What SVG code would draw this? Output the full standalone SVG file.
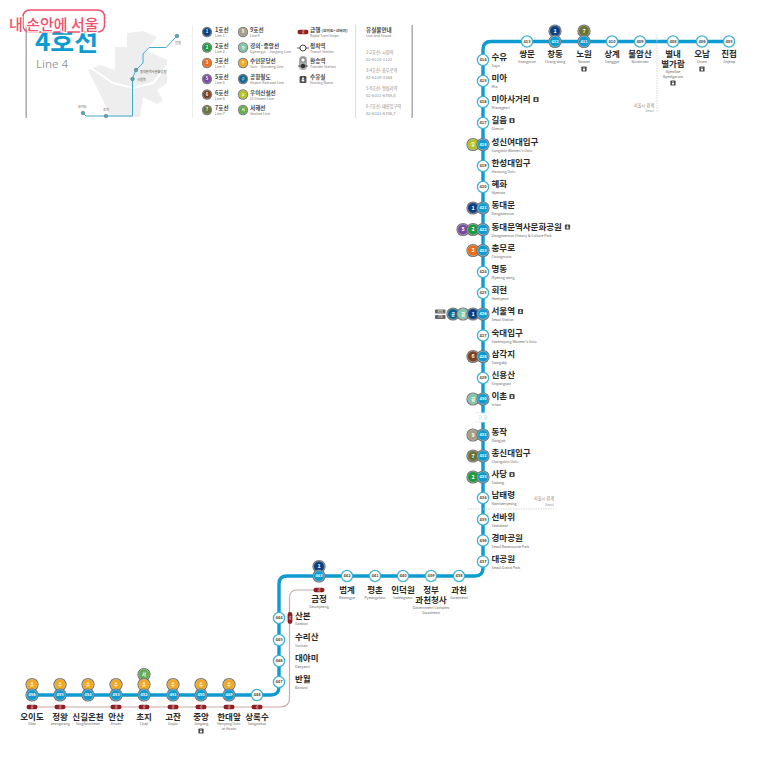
<svg xmlns="http://www.w3.org/2000/svg" width="760" height="760" viewBox="0 0 760 760">
<style>
text{font-family:"Noto Sans CJK KR","Liberation Sans",sans-serif}
.n{font-size:8.5px;font-weight:700;fill:#2a2a2a}
.e{font-size:3.6px;fill:#666}
.m{text-anchor:middle}
.s{font-size:4px;text-anchor:middle;fill:#444;font-weight:700}
.w{font-size:4px;text-anchor:middle;fill:#fff;font-weight:700}
.lw{font-size:5.400px;text-anchor:middle;fill:#fff;font-weight:700}
.lk{font-size:5.6px;font-weight:700;fill:#444}
.le{font-size:3.5px;fill:#777}
.g{font-size:4.2px;fill:#888}
.gb{font-size:3.3px;fill:#999}
.t{font-size:3.2px;fill:#555}
.main{fill:none;stroke:#0e9bd1;stroke-width:3.4;stroke-linejoin:round}
.rapid{fill:none;stroke:#c9aaa6;stroke-width:1.2}
.bound{fill:none;stroke:#ccc;stroke-width:.8;stroke-dasharray:1.5 1}
</style>
<defs>
<circle id="plain" r="5.600" fill="#fff" stroke="#3fb0cf" stroke-width="1.300"/>
<g id="bl"><circle r="6.600" fill="#6d6d6d"/><circle r="5.400" fill="#0e9bd1" stroke="#d8eef6" stroke-width=".4"/></g>
<g id="l1"><circle r="6.600" fill="#6d6d6d"/><circle r="5.400" fill="#0d3f80" stroke="#ddd" stroke-width=".4"/><text class="lw" y="1.900">1</text></g>
<g id="l2"><circle r="6.600" fill="#6d6d6d"/><circle r="5.400" fill="#1b9b3e" stroke="#ddd" stroke-width=".4"/><text class="lw" y="1.900">2</text></g>
<g id="l3"><circle r="6.600" fill="#6d6d6d"/><circle r="5.400" fill="#ee6c14" stroke="#ddd" stroke-width=".4"/><text class="lw" y="1.900">3</text></g>
<g id="l5"><circle r="6.600" fill="#6d6d6d"/><circle r="5.400" fill="#7a4aa3" stroke="#ddd" stroke-width=".4"/><text class="lw" y="1.900">5</text></g>
<g id="l6"><circle r="6.600" fill="#6d6d6d"/><circle r="5.400" fill="#7c4023" stroke="#ddd" stroke-width=".4"/><text class="lw" y="1.900">6</text></g>
<g id="l7"><circle r="6.600" fill="#6d6d6d"/><circle r="5.400" fill="#6b7232" stroke="#ddd" stroke-width=".4"/><text class="lw" y="1.900">7</text></g>
<g id="l9"><circle r="6.600" fill="#6d6d6d"/><circle r="5.400" fill="#a59e85" stroke="#ddd" stroke-width=".4"/><text class="lw" y="1.900">9</text></g>
<g id="lg"><circle r="6.600" fill="#6d6d6d"/><circle r="5.400" fill="#7fc6ad" stroke="#ddd" stroke-width=".4"/><text class="lw" y="1.600" style="font-size:4.400px">경</text></g>
<g id="ls"><circle r="6.600" fill="#6d6d6d"/><circle r="5.400" fill="#f2a91e" stroke="#ddd" stroke-width=".4"/><text class="lw" y="1.600" style="font-size:4.400px">수</text></g>
<g id="la"><circle r="6.600" fill="#6d6d6d"/><circle r="5.400" fill="#0c6290" stroke="#ddd" stroke-width=".4"/><text class="lw" y="1.600" style="font-size:4.400px">공</text></g>
<g id="lu"><circle r="6.600" fill="#6d6d6d"/><circle r="5.400" fill="#b3c320" stroke="#ddd" stroke-width=".4"/><text class="lw" y="1.600" style="font-size:4.400px">우</text></g>
<g id="lh"><circle r="6.600" fill="#6d6d6d"/><circle r="5.400" fill="#5fae4a" stroke="#ddd" stroke-width=".4"/><text class="lw" y="1.600" style="font-size:4.400px">서</text></g>
<g id="nr"><rect x="-2.600" y="-2.600" width="5.200" height="5.200" rx=".9" fill="#4a4a4a"/><circle cy="-1" r=".7" fill="#fff"/><rect x="-1" y="-.1" width="2" height="1.600" fill="#fff"/></g>
<g id="ph"><rect x="-5.500" y="-2.200" width="11" height="4.400" rx="2.200" fill="#8f1d21"/><text y="1.100" text-anchor="middle" fill="#fff" style="font-size:3px">급</text></g>
<g id="pv"><rect x="-2.400" y="-6" width="4.800" height="12" rx="2.400" fill="#8f1d21"/><text y="1.100" text-anchor="middle" fill="#fff" style="font-size:3px">급</text></g>
</defs>
<rect width="760" height="760" fill="#fff"/>

<g id="header">
<rect x="25.500" y="25" width="1.400" height="93" fill="#a5a5a5"/>
<text x="35" y="51" style="font-size:26px;font-weight:700;fill:#0e9bd1">4호선</text>
<text x="36" y="68" style="font-size:11.500px;fill:#9a9a9a;font-family:'Open Sans','Noto Sans',sans-serif">Line 4</text>
<path fill="#eeeeee" d="M115 47H127V33L143 31L157 37L146 50L160 57L167 60V83L157 90L163 100L157 104L143 97L140 117H110L103 100L88 70L100 65L115 70Z"/>
<path fill="none" stroke="#fff" stroke-width="2" d="M88 66L113 83L133 88L153 83L167 66"/>
<path fill="none" stroke="#40aeca" stroke-width="1" d="M83 113L86 116H132.500V78L136 70L143 63V54L149 47.500H166L177 36"/>
<circle cx="83" cy="113" r="1.800" fill="#40aeca" stroke="#777" stroke-width=".7"/>
<circle cx="106" cy="116" r="1.800" fill="#40aeca" stroke="#777" stroke-width=".7"/>
<circle cx="132.500" cy="79" r="1.800" fill="#40aeca" stroke="#777" stroke-width=".7"/>
<circle cx="136" cy="70" r="1.800" fill="#40aeca" stroke="#777" stroke-width=".7"/>
<circle cx="177" cy="36" r="1.800" fill="#40aeca" stroke="#777" stroke-width=".7"/>
<text class="t" x="175" y="44">진접</text>
<text class="t" x="140" y="72.500">동대문역사문화공원</text>
<text class="t" x="137" y="80.500">서울역</text>
<text class="t" x="78" y="108">오이도</text>
<text class="t" x="103" y="111">초지</text>
<rect x="192" y="25" width="1" height="93" fill="#eee"/>
<rect x="355" y="25" width="1" height="93" fill="#ddd"/>
<rect x="411.500" y="25" width="1.400" height="93" fill="#a5a5a5"/>
</g>

<g id="legend">
<use href="#l1" transform="translate(207 32) scale(.78)"/><text class="lk" x="215" y="32">1호선</text><text class="le" x="215" y="37">Line 1</text>
<use href="#l2" transform="translate(207 47.500) scale(.78)"/><text class="lk" x="215" y="47.500">2호선</text><text class="le" x="215" y="52.500">Line 2</text>
<use href="#l3" transform="translate(207 63) scale(.78)"/><text class="lk" x="215" y="63">3호선</text><text class="le" x="215" y="68">Line 3</text>
<use href="#l5" transform="translate(207 79) scale(.78)"/><text class="lk" x="215" y="79">5호선</text><text class="le" x="215" y="84">Line 5</text>
<use href="#l6" transform="translate(207 94.500) scale(.78)"/><text class="lk" x="215" y="94.500">6호선</text><text class="le" x="215" y="99.500">Line 6</text>
<use href="#l7" transform="translate(207 110) scale(.78)"/><text class="lk" x="215" y="110">7호선</text><text class="le" x="215" y="115">Line 7</text>
<use href="#l9" transform="translate(243 32) scale(.78)"/><text class="lk" x="250" y="32">9호선</text><text class="le" x="250" y="37">Line 9</text>
<use href="#lg" transform="translate(243 47.500) scale(.78)"/><text class="lk" x="250" y="47.500">경의·중앙선</text><text class="le" x="250" y="52.500">Gyeongui · Jungang Line</text>
<use href="#ls" transform="translate(243 63) scale(.78)"/><text class="lk" x="250" y="63">수인분당선</text><text class="le" x="250" y="68">Suin · Bundang Line</text>
<use href="#la" transform="translate(243 79) scale(.78)"/><text class="lk" x="250" y="79">공항철도</text><text class="le" x="250" y="84">Airport Railroad Line</text>
<use href="#lu" transform="translate(243 94.500) scale(.78)"/><text class="lk" x="250" y="94.500">우이신설선</text><text class="le" x="250" y="99.500">UI Sinseol Line</text>
<use href="#lh" transform="translate(243 110) scale(.78)"/><text class="lk" x="250" y="110">서해선</text><text class="le" x="250" y="115">Seohae Line</text>
<use href="#ph" x="303" y="32"/><text class="lk" x="310" y="32">급행 <tspan style="font-size:3.800px">(오이도~선바위)</tspan></text><text class="le" x="310" y="37">Rapid Train Stops</text>
<path d="M297 48H309" stroke="#333" stroke-width=".8"/><circle cx="303" cy="48" r="3" fill="#fff" stroke="#333" stroke-width=".9"/><text class="lk" x="310" y="47.500">정차역</text><text class="le" x="310" y="52.500">Transit Station</text>
<rect x="299" y="56" width="8" height="14" rx="4" fill="#aaa"/><circle cx="303" cy="60" r="2.200" fill="#fff" stroke="#555" stroke-width=".7"/><circle cx="303" cy="66" r="2.200" fill="#333"/><path d="M298 66H308" stroke="#333" stroke-width=".8"/><text class="lk" x="310" y="63">환승역</text><text class="le" x="310" y="68">Transfer Station</text>
<use href="#nr" transform="translate(303 79.500) scale(1.300)"/><text class="lk" x="310" y="79">수유실</text><text class="le" x="310" y="84">Nursing Room</text>
<text class="lk" x="366" y="32">유실물안내</text><text class="le" x="366" y="37">Lost and Found</text>
<text class="g" x="366" y="54">1-2호선: 시청역</text><text class="g" x="366" y="61">02-6110-1122</text>
<text class="g" x="366" y="72">3-4호선: 충무로역</text><text class="g" x="366" y="79">02-6110-3344</text>
<text class="g" x="366" y="90">5-8호선: 왕십리역</text><text class="g" x="366" y="97">02-6311-6785,8</text>
<text class="g" x="366" y="108">6-7호선: 태릉입구역</text><text class="g" x="366" y="115">02-6311-6786,7</text>
</g>

<g id="connectors">
<path class="rapid" d="M32 707H280.500Q289.500 707 289.500 698V598Q289.500 590 297 590H319"/>
<path class="main" d="M729 41.500H491Q483 41.500 483 49.500V568Q483 576 475 576H287Q279 576 279 584V687Q279 695 271 695H32"/>
<path d="M486 413H480V422H486Z" fill="#fff"/>
<path class="bound" d="M657 35V112"/>
<path class="bound" d="M468 509H554"/>
</g>

<g id="river"><path d="M475 413H490M475 422H490" stroke="#d8eef6" stroke-width=".8"/><text x="483" y="419" text-anchor="middle" style="font-size:4.500px;fill:#a9d6e6">한 강</text></g>
<g id="boundary-labels">
<text class="g" x="654" y="107" text-anchor="end">서울시 경계</text><text class="gb" x="654" y="112" text-anchor="end">Seoul</text>
<text class="g" x="554" y="500" text-anchor="end">서울시 경계</text><text class="gb" x="554" y="505.500" text-anchor="end">Seoul</text>
</g>

<g id="st405"><use href="#plain" x="729" y="41.500"/><text class="s" x="729" y="42.900">405</text><text class="n m" x="729" y="56.500">진접</text><text class="e m" x="729" y="63">Jinjeop</text></g>
<g id="st406"><use href="#plain" x="702" y="41.500"/><text class="s" x="702" y="42.900">406</text><text class="n m" x="702" y="56.500">오남</text><text class="e m" x="702" y="63">Onam</text><use href="#nr" x="702" y="69"/></g>
<g id="st408"><use href="#plain" x="673" y="41.500"/><text class="s" x="673" y="42.900">408</text><text class="n m" x="673" y="56.500">별내</text><text class="n m" x="673" y="66.500">별가람</text><text class="e m" x="673" y="73">Byeollae</text><text class="e m" x="673" y="78">Byeolgaram</text><use href="#nr" x="673" y="83"/></g>
<g id="st409"><use href="#plain" x="640" y="41.500"/><text class="s" x="640" y="42.900">409</text><text class="n m" x="640" y="56.500">불암산</text><text class="e m" x="640" y="63">Buramsan</text></g>
<g id="st410"><use href="#plain" x="612" y="41.500"/><text class="s" x="612" y="42.900">410</text><text class="n m" x="612" y="56.500">상계</text><text class="e m" x="612" y="63">Sanggye</text></g>
<g id="st411"><use href="#l7" x="584" y="31"/><use href="#bl" x="584" y="41.500"/><text class="w" x="584" y="42.900">411</text><text class="n m" x="584" y="56.500">노원</text><text class="e m" x="584" y="63">Nowon</text><use href="#nr" x="584" y="69"/></g>
<g id="st412"><use href="#l1" x="555" y="31"/><use href="#bl" x="555" y="41.500"/><text class="w" x="555" y="42.900">412</text><text class="n m" x="555" y="56.500">창동</text><text class="e m" x="555" y="63">Chang-dong</text></g>
<g id="st413"><use href="#plain" x="527" y="41.500"/><text class="s" x="527" y="42.900">413</text><text class="n m" x="527" y="56.500">쌍문</text><text class="e m" x="527" y="63">Ssangmun</text></g>

<g id="st414"><use href="#plain" x="483" y="60"/><text class="s" x="483" y="61.400">414</text><text class="n" x="491.500" y="60">수유</text><text class="e" x="491.500" y="67">Suyu</text></g>
<g id="st415"><use href="#plain" x="483" y="81"/><text class="s" x="483" y="82.400">415</text><text class="n" x="491.500" y="81">미아</text><text class="e" x="491.500" y="88">Mia</text></g>
<g id="st416"><use href="#plain" x="483" y="102"/><text class="s" x="483" y="103.400">416</text><text class="n" x="491.500" y="102">미아사거리</text><text class="e" x="491.500" y="109">Miasageori</text><use href="#nr" x="536" y="99.500"/></g>
<g id="st417"><use href="#plain" x="483" y="123"/><text class="s" x="483" y="124.400">417</text><text class="n" x="491.500" y="123">길음</text><text class="e" x="491.500" y="130">Gireum</text><use href="#nr" x="512" y="120.500"/></g>
<g id="st418"><use href="#lu" x="473" y="144.500"/><use href="#bl" x="483" y="144.500"/><text class="w" x="483" y="145.900">418</text><text class="n" x="491.500" y="144.500">성신여대입구</text><text class="e" x="491.500" y="151.500">Sungshin Women's Univ.</text></g>
<g id="st419"><use href="#plain" x="483" y="166"/><text class="s" x="483" y="167.400">419</text><text class="n" x="491.500" y="166">한성대입구</text><text class="e" x="491.500" y="173">Hansung Univ.</text></g>
<g id="st420"><use href="#plain" x="483" y="187"/><text class="s" x="483" y="188.400">420</text><text class="n" x="491.500" y="187">혜화</text><text class="e" x="491.500" y="194">Hyehwa</text></g>
<g id="st421"><use href="#l1" x="473" y="208"/><use href="#bl" x="483" y="208"/><text class="w" x="483" y="209.400">421</text><text class="n" x="491.500" y="208">동대문</text><text class="e" x="491.500" y="215">Dongdaemun</text></g>
<g id="st422"><use href="#l5" x="463" y="229.500"/><use href="#l2" x="473" y="229.500"/><use href="#bl" x="483" y="229.500"/><text class="w" x="483" y="230.900">422</text><text class="n" x="491.500" y="229.500">동대문역사문화공원</text><text class="e" x="491.500" y="236.500">Dongdaemun History &amp; Culture Park</text><use href="#nr" x="567.500" y="227"/></g>
<g id="st423"><use href="#l3" x="473" y="250.500"/><use href="#bl" x="483" y="250.500"/><text class="w" x="483" y="251.900">423</text><text class="n" x="491.500" y="250.500">충무로</text><text class="e" x="491.500" y="257.500">Chungmuro</text></g>
<g id="st424"><use href="#plain" x="483" y="272"/><text class="s" x="483" y="273.400">424</text><text class="n" x="491.500" y="272">명동</text><text class="e" x="491.500" y="279">Myeong-dong</text></g>
<g id="st425"><use href="#plain" x="483" y="293"/><text class="s" x="483" y="294.400">425</text><text class="n" x="491.500" y="293">회현</text><text class="e" x="491.500" y="300">Hoehyeon</text></g>
<g id="st426"><rect x="435" y="309.500" width="10.500" height="4" rx=".8" fill="#666"/><text x="440.300" y="312.700" text-anchor="middle" fill="#fff" style="font-size:3px">KTX</text><rect x="435" y="315" width="10.500" height="4" rx=".8" fill="#666"/><text x="440.300" y="318.200" text-anchor="middle" fill="#fff" style="font-size:3px">ITX</text><use href="#la" x="453" y="314"/><use href="#lg" x="463" y="314"/><use href="#l1" x="473" y="314"/><use href="#bl" x="483" y="314"/><text class="w" x="483" y="315.400">426</text><text class="n" x="491.500" y="314">서울역</text><text class="e" x="491.500" y="321">Seoul Station</text><use href="#nr" x="520.500" y="311.500"/></g>
<g id="st427"><use href="#plain" x="483" y="335.500"/><text class="s" x="483" y="336.900">427</text><text class="n" x="491.500" y="335.500">숙대입구</text><text class="e" x="491.500" y="342.500">Sookmyung Women's Univ.</text></g>
<g id="st428"><use href="#l6" x="473" y="356.500"/><use href="#bl" x="483" y="356.500"/><text class="w" x="483" y="357.900">428</text><text class="n" x="491.500" y="356.500">삼각지</text><text class="e" x="491.500" y="363.500">Samgakji</text></g>
<g id="st429"><use href="#plain" x="483" y="378"/><text class="s" x="483" y="379.400">429</text><text class="n" x="491.500" y="378">신용산</text><text class="e" x="491.500" y="385">Sinyongsan</text></g>
<g id="st430"><use href="#lg" x="473" y="399"/><use href="#bl" x="483" y="399"/><text class="w" x="483" y="400.400">430</text><text class="n" x="491.500" y="399">이촌</text><text class="e" x="491.500" y="406">Ichon</text><use href="#nr" x="512" y="396.500"/></g>
<g id="st431"><use href="#l9" x="473" y="435"/><use href="#bl" x="483" y="435"/><text class="w" x="483" y="436.400">431</text><text class="n" x="491.500" y="435">동작</text><text class="e" x="491.500" y="442">Dongjak</text></g>
<g id="st432"><use href="#l7" x="473" y="456"/><use href="#bl" x="483" y="456"/><text class="w" x="483" y="457.400">432</text><text class="n" x="491.500" y="456">총신대입구</text><text class="e" x="491.500" y="463">Chongshin Univ.</text></g>
<g id="st433"><use href="#l2" x="473" y="477"/><use href="#bl" x="483" y="477"/><text class="w" x="483" y="478.400">433</text><text class="n" x="491.500" y="477">사당</text><text class="e" x="491.500" y="484">Sadang</text><use href="#nr" x="512" y="474.500"/></g>
<g id="st434"><use href="#plain" x="483" y="498"/><text class="s" x="483" y="499.400">434</text><text class="n" x="491.500" y="498">남태령</text><text class="e" x="491.500" y="505">Namtaeryeong</text></g>
<g id="st435"><use href="#plain" x="483" y="519.500"/><text class="s" x="483" y="520.900">435</text><text class="n" x="491.500" y="519.500">선바위</text><text class="e" x="491.500" y="526.500">Seonbawi</text></g>
<g id="st436"><use href="#plain" x="483" y="540.500"/><text class="s" x="483" y="541.900">436</text><text class="n" x="491.500" y="540.500">경마공원</text><text class="e" x="491.500" y="547.500">Seoul Racecourse Park</text></g>
<g id="st437"><use href="#plain" x="483" y="561.500"/><text class="s" x="483" y="562.900">437</text><text class="n" x="491.500" y="561.500">대공원</text><text class="e" x="491.500" y="568.500">Seoul Grand Park</text></g>

<g id="st438"><use href="#plain" x="459" y="576"/><text class="s" x="459" y="577.400">438</text><text class="n m" x="459" y="593">과천</text><text class="e m" x="459" y="599">Gwacheon</text></g>
<g id="st439"><use href="#plain" x="431" y="576"/><text class="s" x="431" y="577.400">439</text><text class="n m" x="431" y="593">정부</text><text class="n m" x="431" y="603">과천청사</text><text class="e m" x="431" y="609">Government Complex</text><text class="e m" x="431" y="614">Gwacheon</text></g>
<g id="st440"><use href="#plain" x="403" y="576"/><text class="s" x="403" y="577.400">440</text><text class="n m" x="403" y="593">인덕원</text><text class="e m" x="403" y="599">Indeogwon</text></g>
<g id="st441"><use href="#plain" x="375" y="576"/><text class="s" x="375" y="577.400">441</text><text class="n m" x="375" y="593">평촌</text><text class="e m" x="375" y="599">Pyeongchon</text></g>
<g id="st442"><use href="#plain" x="347" y="576"/><text class="s" x="347" y="577.400">442</text><text class="n m" x="347" y="593">범계</text><text class="e m" x="347" y="599">Beomgye</text></g>
<g id="st443"><use href="#l1" x="319" y="566.500"/><use href="#bl" x="319" y="576"/><text class="w" x="319" y="577.400">443</text><use href="#ph" x="319" y="590"/><text class="n m" x="319" y="602">금정</text><text class="e m" x="319" y="608">Geumjeong</text></g>

<g id="st444"><use href="#plain" x="279" y="618"/><text class="s" x="279" y="619.400">444</text><use href="#pv" x="290" y="618"/><text class="n" x="295" y="619">산본</text><text class="e" x="295" y="625">Sanbon</text></g>
<g id="st445"><use href="#plain" x="279" y="640"/><text class="s" x="279" y="641.400">445</text><text class="n" x="295" y="640">수리산</text><text class="e" x="295" y="646.500">Surisan</text></g>
<g id="st446"><use href="#plain" x="279" y="661"/><text class="s" x="279" y="662.400">446</text><text class="n" x="295" y="661">대야미</text><text class="e" x="295" y="667.500">Daeyami</text></g>
<g id="st447"><use href="#plain" x="279" y="682"/><text class="s" x="279" y="683.400">447</text><text class="n" x="295" y="682">반월</text><text class="e" x="295" y="688.500">Banwol</text></g>

<g id="st448"><use href="#plain" x="257" y="695"/><text class="s" x="257" y="696.400">448</text><use href="#ph" x="257" y="707"/><text class="n m" x="257" y="719.500">상록수</text><text class="e m" x="257" y="725">Sangnoksu</text></g>
<g id="st449"><use href="#ls" x="229" y="684.500"/><use href="#bl" x="229" y="695"/><text class="w" x="229" y="696.400">449</text><use href="#ph" x="229" y="707"/><text class="n m" x="229" y="719.500">한대앞</text><text class="e m" x="229" y="725">Hanyang Univ.</text><text class="e m" x="229" y="730">at Ansan</text></g>
<g id="st450"><use href="#ls" x="201" y="684.500"/><use href="#bl" x="201" y="695"/><text class="w" x="201" y="696.400">450</text><use href="#ph" x="201" y="707"/><text class="n m" x="201" y="719.500">중앙</text><text class="e m" x="201" y="725">Jungang</text><use href="#nr" x="201" y="731"/></g>
<g id="st451"><use href="#ls" x="173" y="684.500"/><use href="#bl" x="173" y="695"/><text class="w" x="173" y="696.400">451</text><use href="#ph" x="173" y="707"/><text class="n m" x="173" y="719.500">고잔</text><text class="e m" x="173" y="725">Gojan</text></g>
<g id="st452"><use href="#lh" x="144" y="674.500"/><use href="#ls" x="144" y="684.500"/><use href="#bl" x="144" y="695"/><text class="w" x="144" y="696.400">452</text><use href="#ph" x="144" y="707"/><text class="n m" x="144" y="719.500">초지</text><text class="e m" x="144" y="725">Choji</text></g>
<g id="st453"><use href="#ls" x="116" y="684.500"/><use href="#bl" x="116" y="695"/><text class="w" x="116" y="696.400">453</text><use href="#ph" x="116" y="707"/><text class="n m" x="116" y="719.500">안산</text><text class="e m" x="116" y="725">Ansan</text></g>
<g id="st454"><use href="#ls" x="88" y="684.500"/><use href="#bl" x="88" y="695"/><text class="w" x="88" y="696.400">454</text><text class="n m" x="88" y="719.500">신길온천</text><text class="e m" x="88" y="725">Singiloncheon</text></g>
<g id="st455"><use href="#ls" x="60" y="684.500"/><use href="#bl" x="60" y="695"/><text class="w" x="60" y="696.400">455</text><use href="#ph" x="60" y="707"/><text class="n m" x="60" y="719.500">정왕</text><text class="e m" x="60" y="725">Jeongwang</text></g>
<g id="st456"><use href="#ls" x="32" y="684.500"/><use href="#bl" x="32" y="695"/><text class="w" x="32" y="696.400">456</text><use href="#ph" x="32" y="707"/><text class="n m" x="32" y="719.500">오이도</text><text class="e m" x="32" y="725">Oido</text></g>

<g id="watermark">
<rect x="23" y="10" width="81.500" height="22" rx="6.500" fill="none" stroke="#f0506e" stroke-width="1.500"/>
<text x="9" y="30" style="font-size:15px;font-weight:500;fill:#f0506e;stroke:#fff;stroke-width:2.500px;paint-order:stroke">내 손안에 서울</text>
</g>
</svg>
